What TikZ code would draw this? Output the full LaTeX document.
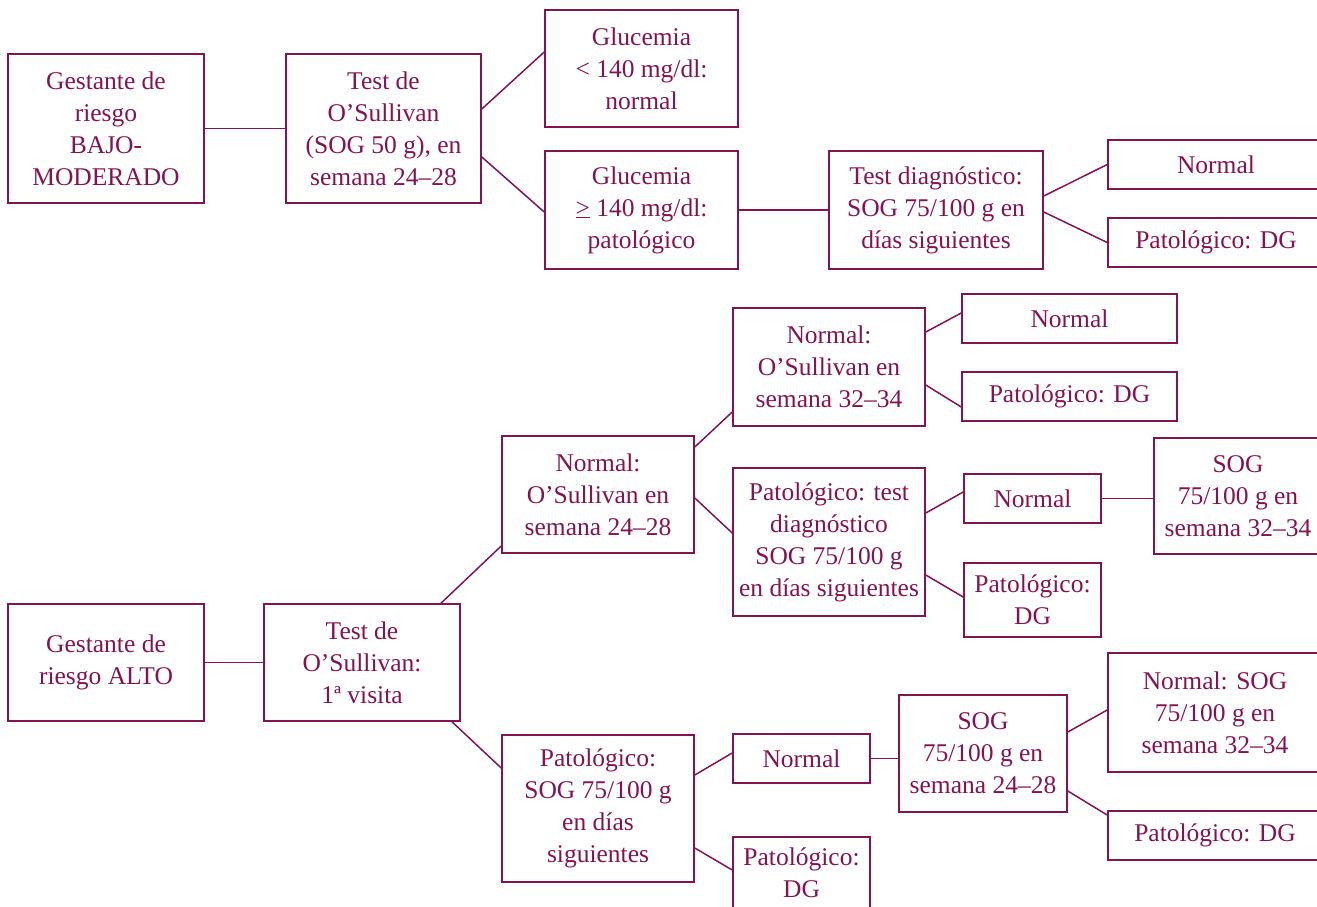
\documentclass[tikz,border=0pt]{standalone}
\usepackage{fontspec}
\setmainfont{Liberation Serif}
\definecolor{wine}{RGB}{130,20,80}
\begin{document}
\begin{tikzpicture}[x=1pt,y=-1pt,
  box/.style={draw=wine,line width=1.6pt,inner sep=0pt,align=center,text=wine,
    font=\fontsize{25.5}{32}\selectfont},
  link/.style={draw=wine,line width=1.5pt}]
\useasboundingbox (0,0) rectangle (1317,907);
\clip (0,0) rectangle (1317,907);
% top section
\node[box,minimum width=196,minimum height=149] (A1) at (106,128.5) {Gestante de\\riesgo\\BAJO-\\MODERADO};
\node[box,minimum width=195,minimum height=149] (A2) at (383.5,128.5) {Test de\\O’Sullivan\\(SOG 50 g), en\\semana 24–28};
\node[box,minimum width=193,minimum height=117] (G1) at (641.5,68.5) {Glucemia\\< 140 mg/dl:\\normal};
\node[box,minimum width=193,minimum height=118] (G2) at (641.5,210) {Glucemia\\\underline{>} 140 mg/dl:\\patológico};
\node[box,minimum width=214,minimum height=118] (T1) at (936,210) {Test diagnóstico:\\SOG 75/100 g en\\días siguientes};
\node[box,minimum width=216,minimum height=49] (N1) at (1216,164.5) {Normal};
\node[box,minimum width=216,minimum height=49] (P1) at (1216,242.5) {Patológico: DG};
\draw[link] (A1) -- (A2);
\draw[link] ([yshift=19.5pt]A2.east) -- ([yshift=16.5pt]G1.west);
\draw[link] ([yshift=-28.5pt]A2.east) -- ([yshift=-2pt]G2.west);
\draw[link] (G2) -- (T1);
\draw[link] ([yshift=14pt]T1.east) -- (N1.west);
\draw[link] ([yshift=-2pt]T1.east) -- (P1.west);
% bottom section
\node[box,minimum width=196,minimum height=117] (B1) at (106,662.5) {Gestante de\\riesgo ALTO};
\node[box,minimum width=196,minimum height=117] (B2) at (362,662.5) {Test de\\O’Sullivan:\\1ª visita};
\node[box,minimum width=192,minimum height=117] (C1) at (598,494.5) {Normal:\\O’Sullivan en\\semana 24–28};
\node[box,minimum width=192,minimum height=147] (C2) at (598,808.5) {Patológico:\\SOG 75/100 g\\en días\\siguientes};
\node[box,minimum width=192,minimum height=118] (D1) at (829,367) {Normal:\\O’Sullivan en\\semana 32–34};
\node[box,minimum width=192,minimum height=148] (D2) at (829,542) {Patológico: test\\diagnóstico\\SOG 75/100 g\\en días siguientes};
\node[box,minimum width=215,minimum height=49] (E1) at (1069.5,318.5) {Normal};
\node[box,minimum width=215,minimum height=49] (E2) at (1069.5,396.5) {Patológico: DG};
\node[box,minimum width=137,minimum height=49] (F1) at (1032.5,498.5) {Normal};
\node[box,minimum width=137,minimum height=74] (F2) at (1032.5,600) {Patológico:\\DG};
\node[box,minimum width=168,minimum height=116] (G) at (1238,496) {SOG\\75/100 g en\\semana 32–34};
\node[box,minimum width=137,minimum height=49] (H1) at (801.5,758.5) {Normal};
\node[box,minimum width=137,minimum height=72] (H2) at (801.5,873) {Patológico:\\DG};
\node[box,minimum width=168,minimum height=117] (I) at (983,753.5) {SOG\\75/100 g en\\semana 24–28};
\node[box,minimum width=214,minimum height=119] (J1) at (1215,712.5) {Normal: SOG\\75/100 g en\\semana 32–34};
\node[box,minimum width=214,minimum height=49] (J2) at (1215,835.5) {Patológico: DG};
\draw[link] (B1) -- (B2);
\draw[link] ([xshift=79pt]B2.north) -- ([yshift=-51.5pt]C1.west);
\draw[link] ([xshift=90pt]B2.south) -- ([yshift=40.5pt]C2.west);
\draw[link] ([yshift=47.5pt]C1.east) -- ([yshift=-45pt]D1.west);
\draw[link] ([yshift=-3.5pt]C1.east) -- ([yshift=9pt]D2.west);
\draw[link] ([yshift=35pt]D1.east) -- ([yshift=5.5pt]E1.west);
\draw[link] ([yshift=-18pt]D1.east) -- ([yshift=-10.5pt]E2.west);
\draw[link] ([yshift=29pt]D2.east) -- ([yshift=6.5pt]F1.west);
\draw[link] ([yshift=-33pt]D2.east) -- ([yshift=3pt]F2.west);
\draw[link] (F1.east) -- (F1.east -| G.west);
\draw[link] ([yshift=33.5pt]C2.east) -- ([yshift=5.5pt]H1.west);
\draw[link] ([yshift=-39.5pt]C2.east) -- ([yshift=3pt]H2.west);
\draw[link] (H1.east) -- (H1.east -| I.west);
\draw[link] ([yshift=21.5pt]I.east) -- ([yshift=2.5pt]J1.west);
\draw[link] ([yshift=-37.5pt]I.east) -- ([yshift=20.5pt]J2.west);
\end{tikzpicture}
\end{document}
